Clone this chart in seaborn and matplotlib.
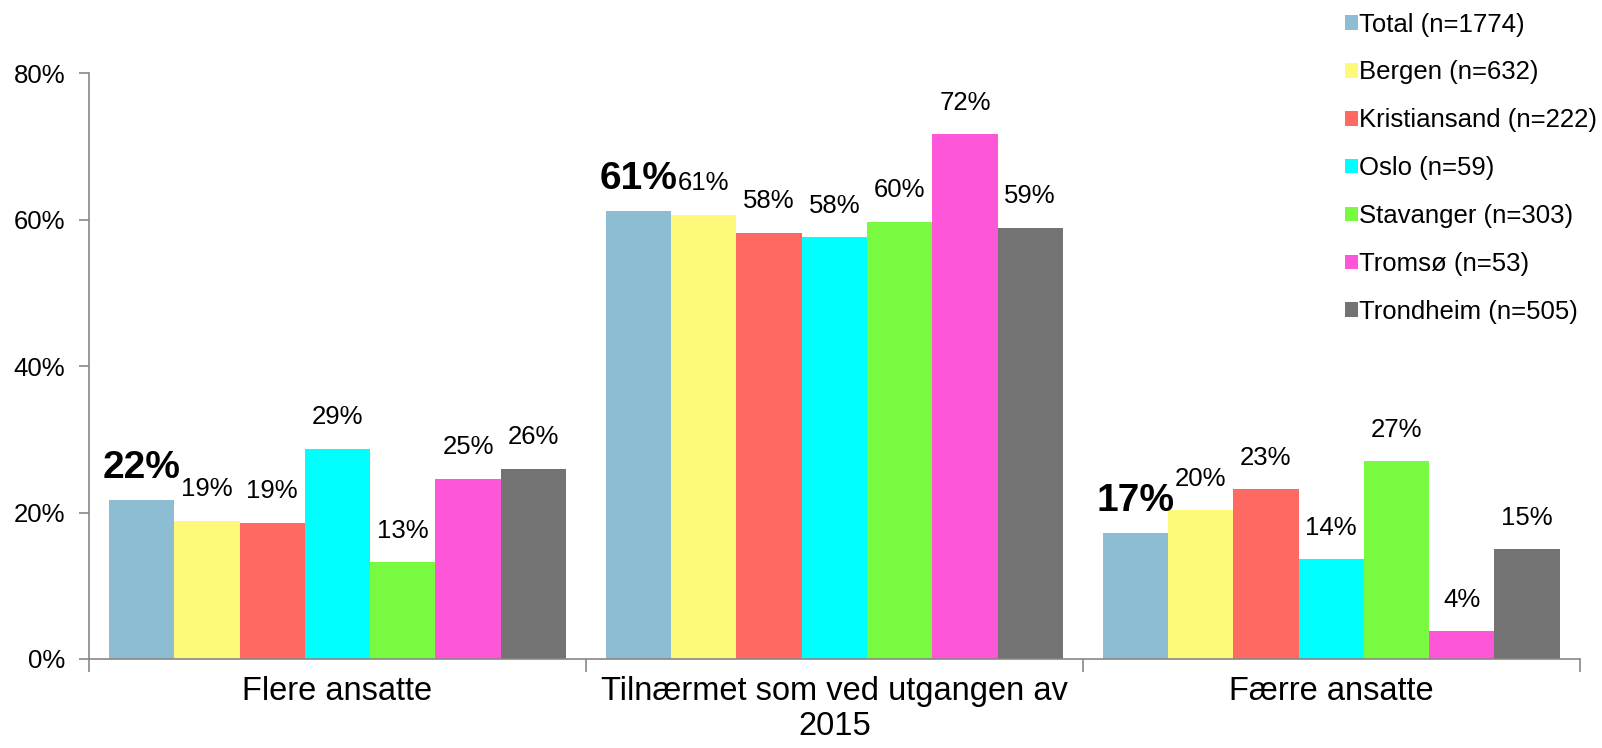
import matplotlib
matplotlib.use("Agg")
import matplotlib.pyplot as plt
import seaborn as sns
import pandas as pd
from matplotlib.patches import Patch

categories = ["Flere ansatte", "Tilnærmet som ved utgangen av\n2015", "Færre ansatte"]
series = ["Total (n=1774)", "Bergen (n=632)", "Kristiansand (n=222)", "Oslo (n=59)",
          "Stavanger (n=303)", "Tromsø (n=53)", "Trondheim (n=505)"]
total = [21.7, 61.2, 17.2]
bergen = [18.9, 60.7, 20.3]
kristiansand = [18.6, 58.2, 23.2]
oslo = [28.7, 57.6, 13.6]
stavanger = [13.2, 59.7, 27.0]
tromso = [24.6, 71.7, 3.8]
trondheim = [26.0, 58.9, 15.0]
colors = ["#8DBDD3", "#FEF97A", "#FE6961", "#00FFFF", "#77FA3F", "#FE56D8", "#737373"]

values = [total, bergen, kristiansand, oslo, stavanger, tromso, trondheim]
rows = []
for s, vals in zip(series, values):
    for c, v in zip(categories, vals):
        rows.append({"cat": c, "series": s, "val": v / 100})
df = pd.DataFrame(rows)

sns.set_style("white")
plt.rcParams["font.family"] = ["Liberation Sans", "DejaVu Sans"]
plt.rcParams["text.color"] = "black"
plt.rcParams["xtick.color"] = "#888888"
plt.rcParams["ytick.color"] = "#888888"
plt.rcParams["xtick.labelcolor"] = "black"
plt.rcParams["ytick.labelcolor"] = "black"

fig = plt.figure(figsize=(16.02, 7.48), dpi=100)
ax = fig.add_axes([0.0556, 0.119, 0.986 - 0.0556, 0.902 - 0.119])

sns.barplot(data=df, x="cat", y="val", hue="series", hue_order=series, order=categories,
            palette=colors, width=0.92, gap=0, ax=ax, legend=False, saturation=1,
            linewidth=0)

ax.set_ylim(0, 0.8)
ax.set_xlim(-0.5, 2.5)
ax.set_yticks([0, 0.2, 0.4, 0.6, 0.8])
ax.set_yticklabels(["0%", "20%", "40%", "60%", "80%"], fontsize=18.5, color="black")
ax.set_xlabel("")
ax.set_ylabel("")

ax.set_xticks([-0.5, 0.5, 1.5, 2.5])
ax.set_xticklabels([])
ax.set_xticks([0, 1, 2], minor=True)
ax.set_xticklabels(categories, minor=True, fontsize=23.5, color="black")
ax.tick_params(axis="x", which="minor", bottom=False, length=0, pad=12)
ax.tick_params(axis="x", which="major", bottom=True, length=9, color="#888888",
               direction="out", width=1.2)
ax.tick_params(axis="y", left=True, length=7, color="#888888", direction="out",
               pad=10, width=1.2)

for sp in ["top", "right"]:
    ax.spines[sp].set_visible(False)
for sp in ["left", "bottom"]:
    ax.spines[sp].set_color("#888888")
    ax.spines[sp].set_linewidth(1.2)

for i, cont in enumerate(ax.containers):
    labels = [f"{round(v * 100):.0f}%" for v in cont.datavalues]
    if i == 0:
        ax.bar_label(cont, labels=labels, padding=10, fontsize=28, fontweight="bold",
                     color="black")
    else:
        ax.bar_label(cont, labels=labels, padding=14, fontsize=18.5, color="black")

handles = [Patch(facecolor=c, edgecolor="none") for c in colors]
fig.legend(handles, series, loc="upper left", bbox_to_anchor=(0.833, 0.997), frameon=False,
           fontsize=18.5, handlelength=0.5, handleheight=0.5, handletextpad=0.05,
           labelspacing=0.93, borderaxespad=0)

fig.savefig("out.png", dpi=100)
